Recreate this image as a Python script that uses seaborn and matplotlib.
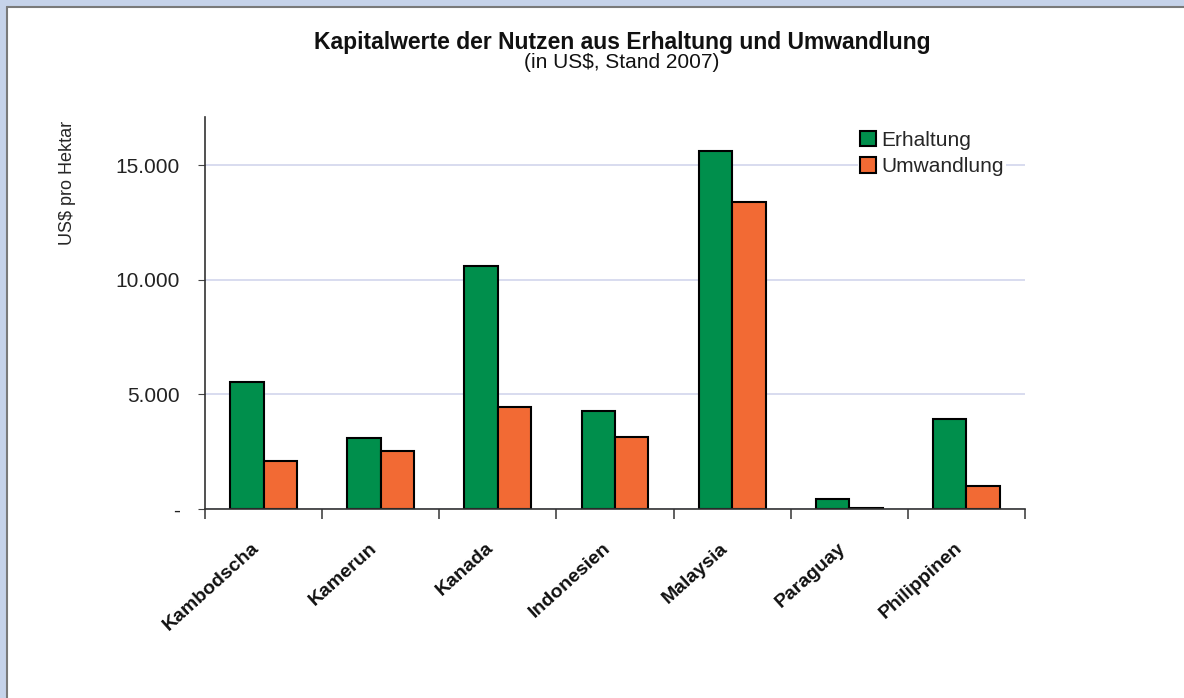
import matplotlib
matplotlib.use("Agg")
import matplotlib.pyplot as plt
import matplotlib.transforms as mtransforms
from matplotlib.patches import Rectangle, Patch
import seaborn as sns
import pandas as pd

countries = ["Kambodscha", "Kamerun", "Kanada", "Indonesien", "Malaysia", "Paraguay", "Philippinen"]
erhaltung = [5540, 3100, 10600, 4270, 15600, 440, 3920]
umwandlung = [2090, 2530, 4450, 3140, 13400, 40, 1000]
series_names = ["Erhaltung", "Umwandlung"]
ytick_vals = [0, 5000, 10000, 15000]
ytick_labels = ["-", "5.000", "10.000", "15.000"]

df = pd.DataFrame({
    "Land": countries * 2,
    "Wert": erhaltung + umwandlung,
    "Serie": [series_names[0]] * len(countries) + [series_names[1]] * len(countries),
})

sns.set_style("white")
plt.rcParams["font.family"] = ["Liberation Sans", "DejaVu Sans"]

green = "#008f4c"
orange = "#f26a34"

fig = plt.figure(figsize=(11.84, 6.98), dpi=100)
fig.patch.set_facecolor("white")
ax = fig.add_axes([0.1731, 0.2708, 0.8657 - 0.1731, 0.8324 - 0.2708])

sns.barplot(data=df, x="Land", y="Wert", hue="Serie", palette=[green, orange],
            width=0.57, edgecolor="black", linewidth=1.5, ax=ax, legend=False,
            saturation=1)

ax.set_xlim(-0.5, 6.5)
ax.set_ylim(0, 17100)
ax.set_yticks(ytick_vals)
ax.set_yticklabels(ytick_labels, fontsize=15, color="#222222")
ax.yaxis.grid(True, color="#d6d9ee", linewidth=1.3)
ax.set_axisbelow(True)
ax.tick_params(axis="y", length=5, direction="out", color="#444444", pad=13, left=True)

# category labels at centers, tick marks at group boundaries
ax.set_xticks(range(len(countries)))
ax.set_xticklabels(countries, fontsize=14, fontweight="bold", rotation=42,
                   ha="right", va="top", rotation_mode="anchor", color="#111111")
ax.tick_params(axis="x", which="major", length=0, pad=22)
ax.set_xticks([i - 0.5 for i in range(len(countries) + 1)], minor=True)
ax.tick_params(axis="x", which="minor", length=7, direction="out", color="#444444", width=1.2, bottom=True)
offset = mtransforms.ScaledTranslation(-12 / 100, 0, fig.dpi_scale_trans)
for lbl in ax.get_xticklabels():
    lbl.set_transform(lbl.get_transform() + offset)

for s in ["top", "right"]:
    ax.spines[s].set_visible(False)
for s in ["left", "bottom"]:
    ax.spines[s].set_color("#333333")
    ax.spines[s].set_linewidth(1.2)

ax.set_xlabel("")
ax.set_ylabel("")
fig.text(67 / 1184, 1 - 183 / 698, "US$ pro Hektar", rotation=90, ha="center", va="center", fontsize=13)

fig.text(622 / 1184, 1 - 42 / 698, "Kapitalwerte der Nutzen aus Erhaltung und Umwandlung",
         ha="center", va="center", fontsize=16.5, fontweight="bold", color="#111111")
fig.text(622 / 1184, 1 - 62 / 698, "(in US$, Stand 2007)", ha="center", va="center", fontsize=15,
         color="#111111")

handles = [Patch(facecolor=green, edgecolor="black", linewidth=1.5),
           Patch(facecolor=orange, edgecolor="black", linewidth=1.5)]
leg = fig.legend(handles, series_names, loc="upper left", bbox_to_anchor=(858 / 1184, 1 - 129 / 698),
                 frameon=True, fontsize=15, handlelength=0.75, handleheight=0.75, handletextpad=0.25,
                 labelspacing=0.35, borderaxespad=0, borderpad=0.1, fancybox=False)
leg.get_frame().set_facecolor("white")
leg.get_frame().set_edgecolor("none")
leg.get_frame().set_alpha(1)

# outer frame bands (top and left)
fig.patches.append(Rectangle((0, 1 - 7 / 698), 1, 7 / 698, transform=fig.transFigure,
                             facecolor="#c6d3ea", edgecolor="none", zorder=-1))
fig.patches.append(Rectangle((0, 0), 7 / 1184, 1, transform=fig.transFigure,
                             facecolor="#c6d3ea", edgecolor="none", zorder=-1))
fig.lines.append(plt.Line2D([7 / 1184, 1], [1 - 7 / 698, 1 - 7 / 698], transform=fig.transFigure,
                            color="#7a7a7a", linewidth=1.5))
fig.lines.append(plt.Line2D([7 / 1184, 7 / 1184], [0, 1 - 7 / 698], transform=fig.transFigure,
                            color="#7a7a7a", linewidth=1.5))

fig.savefig("out.png", dpi=100)
